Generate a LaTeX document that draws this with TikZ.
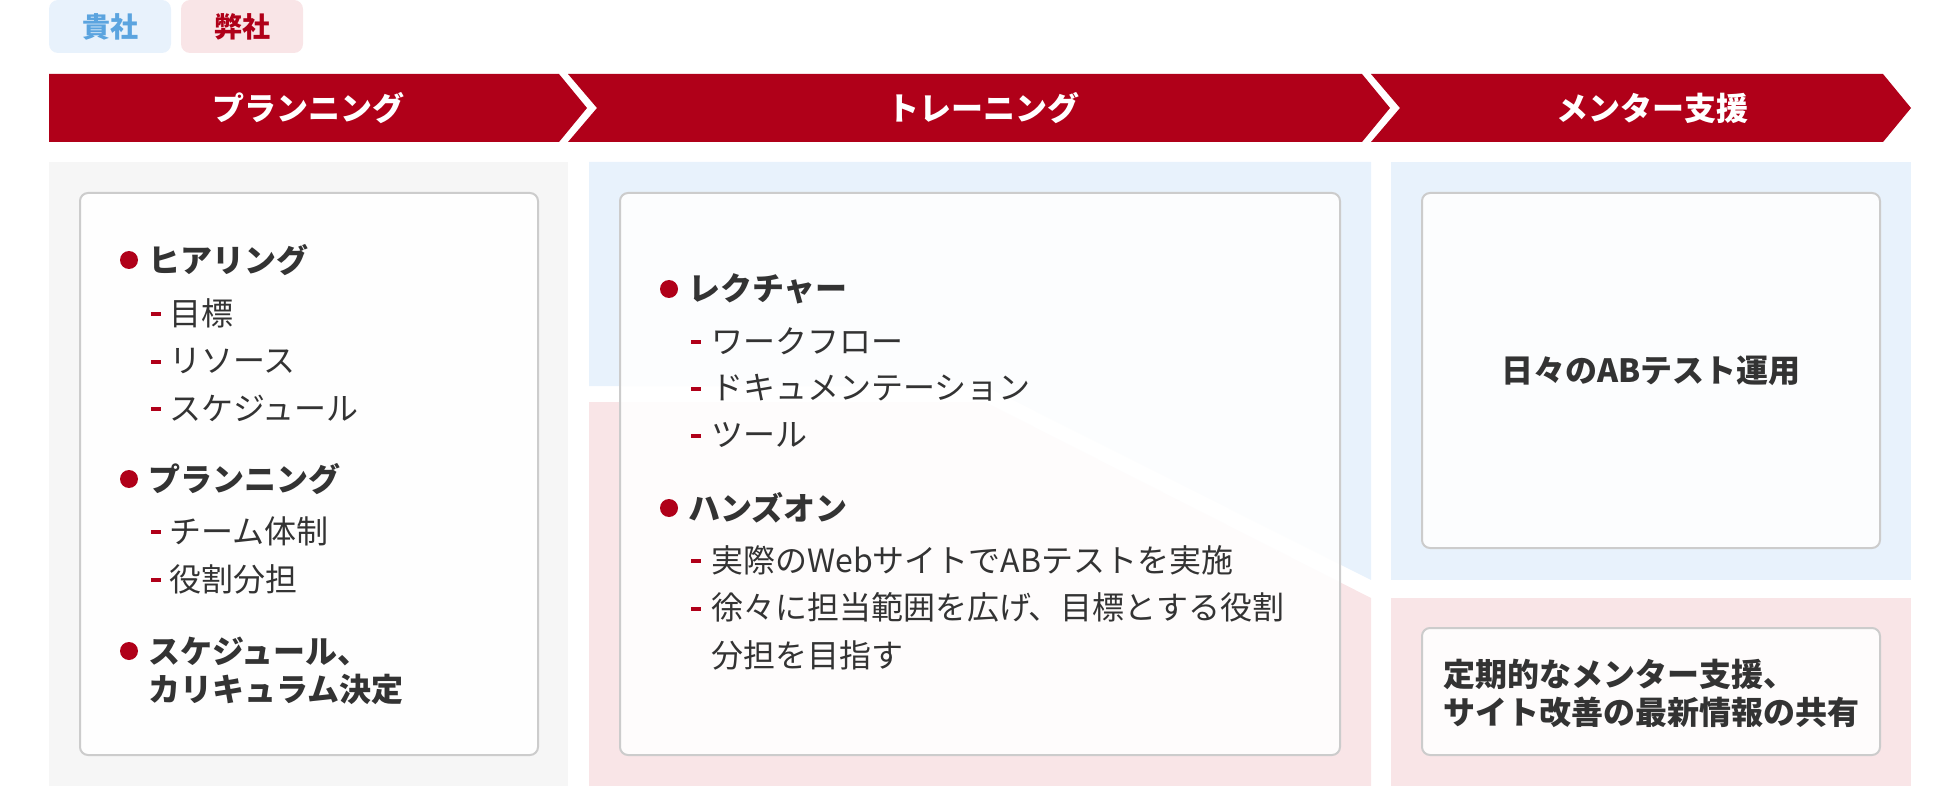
\documentclass[tikz,border=0pt]{standalone}
\usepackage{fontspec}
\setmainfont{Noto Sans CJK JP}
\definecolor{brand}{HTML}{B00019}
\definecolor{ink}{HTML}{333333}
\definecolor{skyfill}{HTML}{E8F2FC}
\definecolor{skytext}{HTML}{5BA4DF}
\definecolor{rosefill}{HTML}{F9E5E7}
\definecolor{greyfill}{HTML}{F6F6F6}
\definecolor{edge}{HTML}{CCCCCC}
\begin{document}
\begin{tikzpicture}[x=1pt,y=-1pt,
        card/.style={draw=edge,line width=2pt,fill=white,fill opacity=.9,rounded corners=8pt},
        tag/.style={inner sep=0pt,font=\fontsize{28}{28}\selectfont\bfseries},
        band/.style={inner sep=0pt,text=white,font=\fontsize{32}{32}\selectfont\bfseries},
        head/.style={anchor=west,inner sep=0pt,text=ink,align=left,font=\fontsize{32}{38}\selectfont\bfseries},
        item/.style={anchor=west,inner sep=0pt,text=ink,align=left,font=\fontsize{32}{47.5}\selectfont},
        rdot/.style={circle,fill=brand,inner sep=0pt,minimum size=18pt},
        rbar/.style={fill=brand,inner sep=0pt,minimum width=10pt,minimum height=4pt}]
        \useasboundingbox(0,0)rectangle(1960,786);
        \fill[skyfill,rounded corners=9pt](49,0)rectangle(171,53);
        \fill[rosefill,rounded corners=9pt](181,0)rectangle(303,53);
        \node[tag,text=skytext](kisha)at(110,27){貴社};
        \node[tag,text=brand](heisha)at(242,27){弊社};
        \fill[brand](49,74)--(559,74)--(587,108)--(559,142)--(49,142)--cycle;
        \fill[brand](568,74)--(1362,74)--(1390,108)--(1362,142)--(568,142)--(597,108)--cycle;
        \fill[brand](1371,74)--(1883,74)--(1911,108)--(1883,142)--(1371,142)--(1400,108)--cycle;
        \node[band](plan)at(308,108){プランニング};
        \node[band](train)at(983,108){トレーニング};
        \node[band](mentor)at(1652,108){メンター支援};
        \fill[greyfill](49,162)rectangle(568,786);
        \fill[skyfill](589,162)--(1371,162)--(1371,580)--(985,386)--(589,386)--cycle;
        \fill[rosefill](589,402)--(985,402)--(1371,598)--(1371,786)--(589,786)--cycle;
        \fill[skyfill](1391,162)rectangle(1911,580);
        \fill[rosefill](1391,598)rectangle(1911,786);
        \draw[card](80,193)rectangle(538,755);
        \draw[card](620,193)rectangle(1340,755);
        \draw[card](1422,193)rectangle(1880,548);
        \draw[card](1422,628)rectangle(1880,755);
        \foreach \n/\t/\y in {a/ヒアリング/260,b/プランニング/479}{
                \node[rdot](dot\n)at(129,\y){};
                \node[head](head\n)at(148,\y){\t};}
        \node[rdot](dotc)at(129,651){};
        \node[head](headc)at(148,670.5){スケジュール、\\カリキュラム決定};
        \foreach \n/\t/\y in {a/目標/313,b/リソース/361,c/スケジュール/408,d/チーム体制/531,e/役割分担/579}{
                \node[rbar](bar\n)at(156,\y+1){};
                \node[item](item\n)at(169,\y){\t};}
        \foreach \n/\t/\y in {d/レクチャー/289,e/ハンズオン/508}{
                \node[rdot](dot\n)at(669,\y){};
                \node[head](head\n)at(688,\y){\t};}
        \foreach \n/\t/\y in {f/ワークフロー/341,g/ドキュメンテーション/388,h/ツール/435,i/実際のWebサイトでABテストを実施/560}{
                \node[rbar](bar\n)at(696,\y+1){};
                \node[item](item\n)at(711,\y){\t};}
        \node[rbar](barj)at(696,609){};
        \node[item](itemj)at(711,631.5){徐々に担当範囲を広げ、目標とする役割\\分担を目指す};
        \node[head,anchor=center](ops)at(1651,371){日々のABテスト運用};
        \node[head,anchor=center](share)at(1651,693){定期的なメンター支援、\\サイト改善の最新情報の共有};
    \end{tikzpicture}
\end{document}
